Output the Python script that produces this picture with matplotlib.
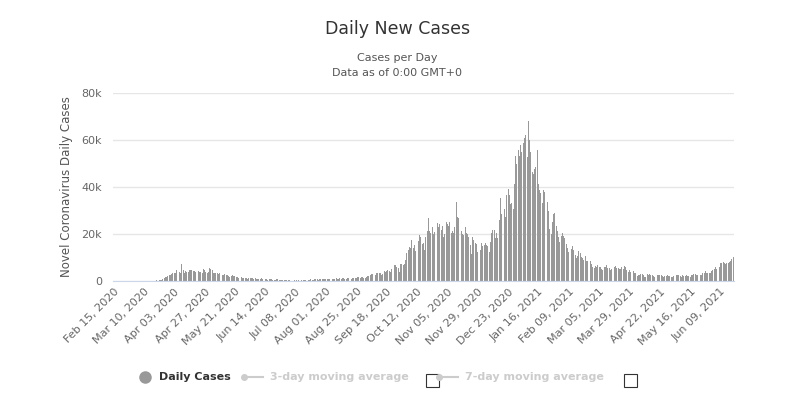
import matplotlib
matplotlib.use("Agg")
import matplotlib.pyplot as plt
import numpy as np
import pandas as pd

# daily new cases (thousands), Feb 15 2020 .. Jun 19 2021
feb20 = [0] * 15
mar20 = [0, 0, 0, 0, 0, 0, 0, 0, 0, 0, 0, 0, 0, 0, 0, 0, 0, 0, 0.2, 0.3,
         0.2, 0.4, 0.5, 0.6, 0.9, 1.2, 1.8, 1.5, 2.0, 2.4, 2.5]
apr20 = [3.0, 3.5, 3.4, 3.2, 4.5, 3.0, 4.0, 3.5, 7.2, 4.5, 3.6, 4.2, 4.0, 3.9, 4.5,
         4.7, 4.8, 4.4, 4.1, 3.7, 4.2, 4.3, 4.0, 3.8, 3.6, 4.9, 4.8, 3.9, 3.6, 3.7]
may20 = [5.6, 4.9, 4.5, 3.6, 3.2, 3.3, 3.5, 3.0, 3.2, 3.1, 2.7, 2.6, 2.8, 2.5, 2.4, 2.2,
         1.9, 2.0, 2.4, 2.1, 2.0, 1.6, 1.5, 1.3, 1.1, 1.6, 1.4, 1.3, 1.2, 1.1, 1.0]
jun20 = [1.4, 1.2, 1.3, 1.1, 1.0, 1.2, 1.0, 0.9, 0.8, 1.0, 1.1, 0.8, 0.7, 0.9, 0.8,
         0.6, 0.7, 0.9, 0.8, 0.6, 0.5, 0.6, 0.7, 0.8, 0.6, 0.5, 0.4, 0.3, 0.6, 0.4]
jul20 = [0.3, 0.5, 0.4, 0, 0, 0, 0.4, 0, 0.6, 0.5, 0, 0, 0.6, 0.5, 0.5, 0.6,
         0.5, 0.6, 0.6, 0.7, 0.6, 0.6, 0.7, 0.7, 0.7, 0.6, 0.7, 0.7, 0.8, 0.8, 0.9]
aug20 = [0.8, 0.8, 0.7, 0.9, 0.9, 0.9, 1.0, 0.8, 1.1, 1.0, 0.9, 1.1, 1.0, 1.1, 1.3, 1.0,
         0.9, 1.2, 1.2, 1.1, 1.0, 1.2, 1.4, 1.1, 1.3, 1.5, 1.5, 1.3, 1.6, 1.7, 1.4]
sep20 = [1.3, 1.9, 2.2, 2.3, 2.6, 3.1, 3.0, 2.4, 2.7, 3.6, 3.5, 3.6, 3.5, 2.6, 3.1,
         4.1, 4.0, 4.3, 4.5, 4.4, 4.0, 4.9, 6.2, 6.6, 6.9, 6.0, 5.7, 4.0, 7.1, 7.1]
oct20 = [6.9, 7.1, 9.0, 12.0, 13.0, 14.5, 14.2, 17.5, 13.9, 15.2, 12.9, 13.9, 17.2, 19.7, 18.9,
         15.7, 16.2, 13.3, 18.8, 21.3, 26.7, 21.2, 20.5, 23.0, 19.8, 20.9, 22.9, 24.7, 23.1, 24.4, 21.9]
nov20 = [23.2, 18.9, 20.0, 25.1, 24.1, 23.3, 24.9, 20.6, 21.4, 20.4, 22.9, 33.5, 27.3, 26.9, 24.9,
         21.4, 20.1, 19.6, 22.9, 20.3, 19.9, 18.7, 15.5, 11.3, 18.6, 17.6, 16.2, 15.8, 12.3, 13.4]
dec20 = [13.4, 16.2, 14.9, 15.5, 16.3, 15.5, 14.7, 12.3, 16.6, 20.3, 21.7, 21.5, 18.4, 20.3, 18.5,
         26.0, 35.4, 28.5, 33.4, 30.7, 27.1, 36.8, 39.2, 36.8, 32.7, 33.0, 30.5, 41.4, 53.1, 50.0, 55.9]
jan21 = [53.3, 57.7, 54.9, 58.8, 60.9, 62.3, 52.6, 68.1, 59.9, 54.9, 46.2, 45.5, 47.5, 48.7, 55.8,
         41.3, 38.6, 37.5, 33.4, 38.9, 37.9, 40.3, 33.6, 30.0, 22.2, 20.1, 25.3, 28.7, 29.1, 23.3, 21.1]
feb21 = [18.6, 16.8, 19.2, 20.6, 19.1, 18.3, 15.8, 14.1, 12.4, 13.0, 13.5, 15.1, 13.3, 10.9,
         9.8, 10.6, 12.7, 12.0, 10.4, 9.8, 9.0, 10.6, 8.5, 8.5, 9.9, 8.5, 7.4, 6.0]
mar21 = [5.5, 6.4, 6.0, 6.6, 6.1, 6.0, 5.2, 4.7, 5.8, 5.9, 6.8, 5.5, 5.4, 4.6, 5.1, 5.3,
         5.8, 6.3, 5.6, 5.6, 5.3, 5.3, 6.0, 5.3, 6.4, 6.1, 4.7, 3.9, 4.7, 4.0, 4.5]
apr21 = [4.1, 3.4, 3.4, 2.3, 2.7, 2.4, 2.8, 3.1, 2.6, 1.8, 1.7, 2.8, 2.5, 3.0, 2.7,
         2.6, 2.0, 1.9, 2.5, 2.5, 2.7, 2.5, 2.7, 2.2, 1.8, 2.0, 2.1, 2.6, 2.2, 2.2]
may21 = [1.7, 1.6, 2.2, 2.3, 2.4, 2.5, 2.6, 2.0, 1.8, 2.4, 2.1, 2.3, 2.6, 2.2, 2.0, 1.9,
         2.4, 2.7, 2.8, 2.9, 2.7, 2.4, 1.9, 2.4, 2.5, 3.2, 3.5, 4.2, 3.4, 3.2, 3.2]
jun21 = [3.2, 4.3, 4.6, 5.3, 5.8, 5.3, 5.7, 6.0, 7.5, 7.5, 8.1, 7.7, 7.4, 7.7, 7.6, 8.0, 8.5, 9.3, 10.3]

cases = np.array(feb20 + mar20 + apr20 + may20 + jun20 + jul20 + aug20 + sep20 + oct20
                 + nov20 + dec20 + jan21 + feb21 + mar21 + apr21 + may21 + jun21) * 1000
dates = pd.date_range("2020-02-15", periods=len(cases), freq="D")
tick_dates = dates[::24]
y_ticks = [0, 20000, 40000, 60000, 80000]
y_labels = ["0", "20k", "40k", "60k", "80k"]

fig = plt.figure(figsize=(7.95, 4.0), dpi=100)
ax = fig.add_axes([0.142, 0.2975, 0.781, 0.47])
x = np.arange(len(cases))
ax.bar(x, cases, width=0.75, color="#999999", linewidth=0)
ax.set_xlim(-0.5, len(cases) - 0.5)
ax.set_ylim(0, 80000)
ax.set_yticks(y_ticks)
ax.set_yticklabels(y_labels, color="#666666", fontsize=8)
ax.set_xticks(x[::24])
ax.set_xticklabels([d.strftime("%b %d, %Y") for d in tick_dates], rotation=45,
                   ha="right", rotation_mode="anchor", color="#666666", fontsize=8)
ax.tick_params(axis="y", length=0, pad=8)
ax.tick_params(axis="x", length=0, pad=4)
ax.grid(axis="y", color="#e6e6e6", linewidth=1)
ax.set_axisbelow(True)
for s in ["top", "right", "left"]:
    ax.spines[s].set_visible(False)
ax.spines["bottom"].set_color("#ccd6eb")
ax.set_ylabel("Novel Coronavirus Daily Cases", color="#555555", fontsize=8.5, labelpad=6)

fig.text(0.5, 0.915, "Daily New Cases", ha="center", fontsize=12.5, color="#333333")
fig.text(0.5, 0.848, "Cases per Day", ha="center", fontsize=8, color="#555555")
fig.text(0.5, 0.81, "Data as of 0:00 GMT+0", ha="center", fontsize=8, color="#555555")

# legend row
ly = 0.05
fig.lines.append(plt.Line2D([0.183], [ly + 0.008], marker="o", markersize=8, color="#999999",
                            transform=fig.transFigure))
fig.text(0.2, ly, "Daily Cases", fontsize=8, fontweight="bold", color="#333333")
for x0, lab in [(0.315, "3-day moving average"), (0.56, "7-day moving average")]:
    fig.lines.append(plt.Line2D([x0 - 0.008, x0 + 0.016], [ly + 0.008] * 2, color="#cccccc",
                                marker="o", markersize=4, markevery=[0],
                                transform=fig.transFigure))
    fig.text(x0 + 0.025, ly, lab, fontsize=8, fontweight="bold", color="#cccccc")
for bx in [0.536, 0.785]:
    fig.patches.append(plt.Rectangle((bx, ly - 0.018), 0.016, 0.032, fill=False,
                                     edgecolor="#333333", linewidth=0.8,
                                     transform=fig.transFigure))

fig.savefig("out.png", dpi=100)
